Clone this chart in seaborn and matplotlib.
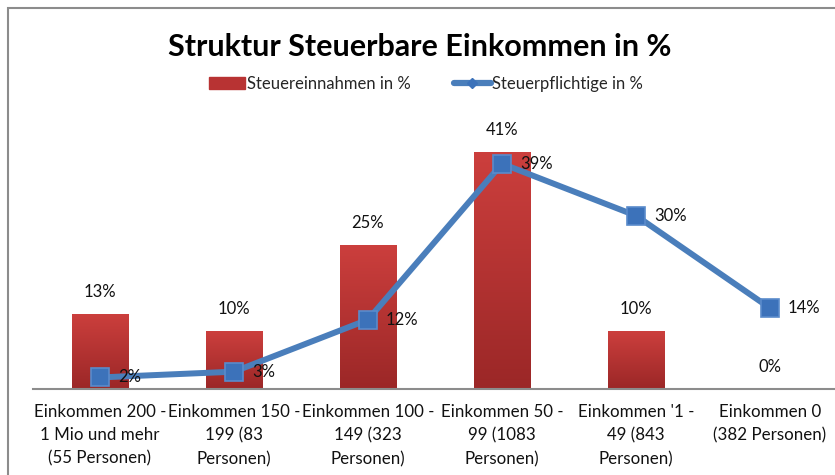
import numpy as np
import matplotlib
matplotlib.use("Agg")
import matplotlib.pyplot as plt
import matplotlib.patches as mpatches
from matplotlib.lines import Line2D
import seaborn as sns

categories = [
    "Einkommen 200 -\n1 Mio und mehr\n(55 Personen)",
    "Einkommen 150 -\n199 (83\nPersonen)",
    "Einkommen 100 -\n149 (323\nPersonen)",
    "Einkommen 50 -\n99 (1083\nPersonen)",
    "Einkommen '1 -\n49 (843\nPersonen)",
    "Einkommen 0\n(382 Personen)",
]
steuereinnahmen = [13, 10, 25, 41, 10, 0]
steuerpflichtige = [2, 3, 12, 39, 30, 14]

sns.set_style("white")
plt.rcParams["font.family"] = ["Lato", "DejaVu Sans"]

fig = plt.figure(figsize=(8.35, 4.75), dpi=100)
ax = fig.add_axes([33 / 835, 86 / 475, 804 / 835, 260 / 475])

red = "#C0393A"
blue = "#4A7EBB"

sns.barplot(x=categories, y=steuereinnahmen, color=red, width=0.42,
            saturation=1, ax=ax, zorder=2)

# vertical gradient on each bar, like the Excel fill
grad = np.linspace(0, 1, 256).reshape(-1, 1)
cmap = matplotlib.colors.LinearSegmentedColormap.from_list("rg", ["#9B2727", "#CC3F3D"])
for p in ax.patches:
    x0, y0 = p.get_x(), p.get_y()
    w, h = p.get_width(), p.get_height()
    if h <= 0:
        continue
    im = ax.imshow(grad, cmap=cmap, aspect="auto", origin="lower",
                   extent=[x0, x0 + w, y0, y0 + h], zorder=2.1)
    im.set_clip_path(p)

sns.pointplot(x=categories, y=steuerpflichtige, color=blue, markers="s",
              linestyles="-", linewidth=4.3, markersize=13, ax=ax)
for c in ax.collections:
    c.set_zorder(4)
for l in ax.lines:
    l.set_zorder(4)
    l.set_markeredgecolor("#5A8BCB")
    l.set_markeredgewidth(1.2)
    l.set_markerfacecolor("#3C72BA")

for i, v in enumerate(steuereinnahmen):
    ax.annotate(f"{v}%", (i, v), xytext=(0, 10), textcoords="offset points",
                ha="center", va="bottom", fontsize=12, color="#111111")
for i, v in enumerate(steuerpflichtige):
    ax.annotate(f"{v}%", (i, v), xytext=(13, 0), textcoords="offset points",
                ha="left", va="center", fontsize=12, color="#111111", zorder=5)

ax.set_xlim(-0.5, 5.5)
ax.set_ylim(0, 45)
ax.set_yticks([])
ax.set_ylabel("")
for s in ["top", "left", "right"]:
    ax.spines[s].set_visible(False)
ax.spines["bottom"].set_color("#8C8C8C")
ax.spines["bottom"].set_linewidth(1.5)
ax.tick_params(axis="x", length=0, pad=11, labelsize=12.2, colors="#111111")
for t in ax.get_xticklabels():
    t.set_linespacing(1.55)

fig.text(0.503, 1 - 47 / 475, "Struktur Steuerbare Einkommen in %",
         ha="center", va="center", fontsize=22, fontweight="bold", color="black")

handles = [
    mpatches.Patch(color="#B83333", label="Steuereinnahmen in %"),
    Line2D([0], [0], color=blue, lw=4.5, marker="D", markersize=5,
           markerfacecolor="#3C72BA", markeredgecolor="#3C72BA",
           label="Steuerpflichtige in %"),
]
fig.legend(handles=handles, loc="center", bbox_to_anchor=(0.51, 1 - 84 / 475),
           ncol=2, frameon=False, fontsize=12, handlelength=2.2,
           handletextpad=0.1, columnspacing=2.6)

frame = mpatches.Rectangle((8 / 835, -0.1), 1.2, 1.1 - 8 / 475,
                           transform=fig.transFigure, fill=False,
                           edgecolor="#8C8C8C", linewidth=1.5)
fig.patches.append(frame)

fig.savefig("out.png", dpi=100)
